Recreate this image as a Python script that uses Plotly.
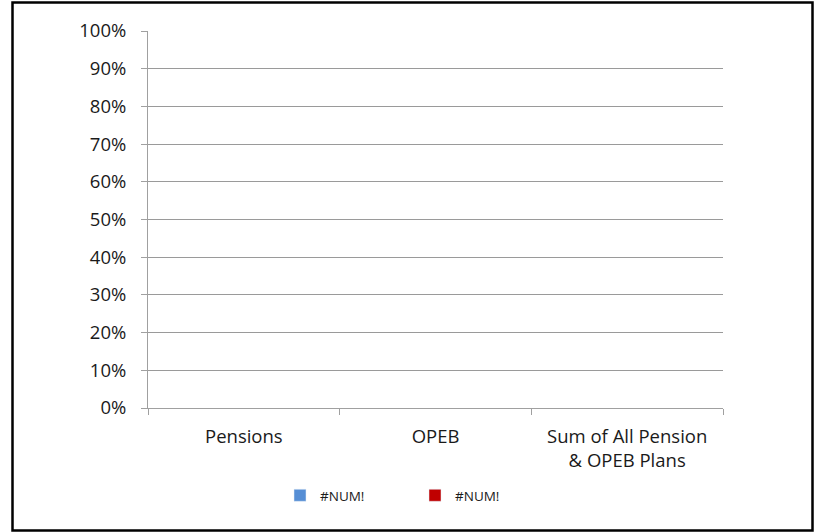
import plotly.graph_objects as go

categories = ["Pensions", "OPEB", "Sum of All Pension<br>& OPEB Plans"]
series_names = ["#NUM!", "#NUM!"]
series_a = [None, None, None]
series_b = [None, None, None]
series_colors = ["#558ED5", "#C00000"]
y_ticks = [0, 0.1, 0.2, 0.3, 0.4, 0.5, 0.6, 0.7, 0.8, 0.9, 1.0]

FONT = "'Open Sans', sans-serif"
W, H = 815, 532
L, R, T, B = 148, 92, 31, 124
PW, PH = W - L - R, H - T - B

def px_x(p):
    return (p - L) / PW

def px_y(p):
    return (H - B - p) / PH

fig = go.Figure()
for name, vals, col in zip(series_names, [series_a, series_b], series_colors):
    fig.add_trace(go.Bar(x=categories, y=vals, name=name, marker_color=col,
                         showlegend=True))

fig.update_layout(
    barmode="stack",
    width=W, height=H,
    paper_bgcolor="white", plot_bgcolor="white",
    margin=dict(l=L, r=R, t=T, b=B),
    font=dict(family=FONT, size=17, color="#1a1a1a"),
    legend=dict(orientation="h", x=px_x(280), xanchor="left",
                y=px_y(480), yanchor="top",
                font=dict(size=13.5, color="#1a1a1a"), itemwidth=30,
                traceorder="normal", entrywidth=90),
    xaxis=dict(showline=True, linecolor="#a0a0a0", linewidth=1, ticks="outside",
               tickson="boundaries", ticklen=6, tickcolor="#a0a0a0",
               showgrid=False, range=[-0.5, 2.5], type="category",
               ticklabelstandoff=12, tickfont=dict(size=18.5)),
    yaxis=dict(range=[0, 1], tickvals=y_ticks, tickformat=".0%",
               showline=True, linecolor="#a0a0a0", linewidth=1, ticks="outside",
               ticklen=6, tickcolor="#a0a0a0", showgrid=True, gridcolor="#9a9a9a",
               gridwidth=1, zeroline=False, ticklabelstandoff=11,
               tickfont=dict(size=18.5)),
    shapes=[dict(type="rect", xref="paper", yref="paper",
                 x0=px_x(12.5), x1=px_x(812.5), y0=px_y(530.5), y1=px_y(2.5),
                 line=dict(color="black", width=2.5), fillcolor="rgba(0,0,0,0)")],
)

fig.write_html("out.html", config={"displayModeBar": False},
               post_script="document.body.style.margin='0';document.body.style.overflow='hidden';")
